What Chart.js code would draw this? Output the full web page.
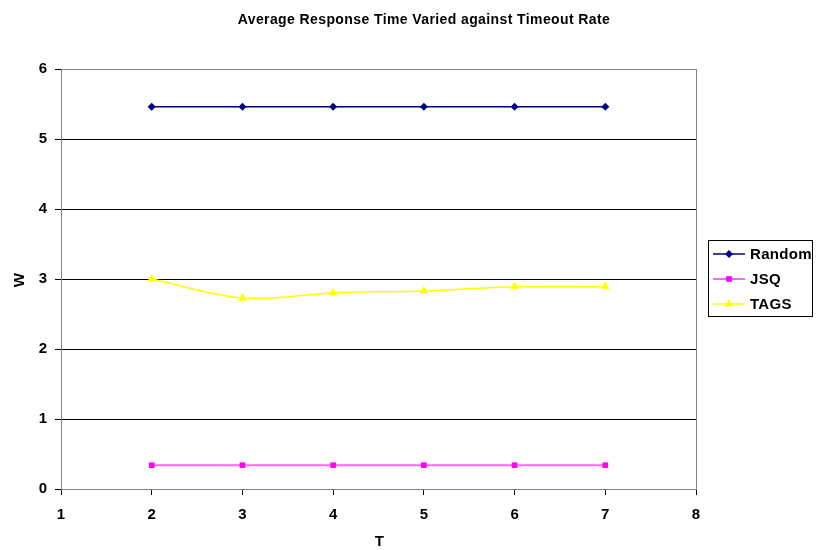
<!DOCTYPE html>
<html>
<head>
<meta charset="utf-8">
<script src="https://cdn.jsdelivr.net/npm/chart.js@4"></script>
<style>
  html, body { margin: 0; padding: 0; background: #fff; }
  #wrap { width: 816px; height: 550px; }
</style>
</head>
<body>
<div id="wrap"><canvas id="chart" width="816" height="550"></canvas></div>
<script>
// ── Data ─────────────────────────────────────────
const T_VALUES = [2, 3, 4, 5, 6, 7];
const RANDOM = [5.46, 5.46, 5.46, 5.46, 5.46, 5.46];
const JSQ = [0.34, 0.34, 0.34, 0.34, 0.34, 0.34];
const TAGS = [3.0, 2.73, 2.8, 2.83, 2.89, 2.89];
const X_TICKS = [1, 2, 3, 4, 5, 6, 7, 8];
const Y_TICKS = [0, 1, 2, 3, 4, 5, 6];

const TITLE = 'Average Response Time Varied against Timeout Rate';
const FONT = '"Liberation Sans", Arial, sans-serif';

const toPoints = (ys) => T_VALUES.map((x, i) => ({ x, y: ys[i] }));

// ── Title, axis titles, frame and legend ─────────
const decorPlugin = {
  id: 'decor',
  afterDraw(chart) {
    const { ctx, chartArea: a } = chart;
    ctx.save();
    ctx.strokeStyle = '#808080';
    ctx.lineWidth = 1;
    ctx.strokeRect(a.left + 0.5, a.top + 0.5, a.right - a.left, a.bottom - a.top);

    ctx.fillStyle = '#000';
    ctx.font = 'bold 14px ' + FONT;
    ctx.letterSpacing = '0.4px';
    ctx.textAlign = 'center';
    ctx.textBaseline = 'middle';
    ctx.fillText(TITLE, 424, 20);
    ctx.font = 'bold 15px ' + FONT;
    ctx.fillText('T', (a.left + a.right) / 2 + 1, 542);
    ctx.translate(20, 280);
    ctx.rotate(-Math.PI / 2);
    ctx.fillText('W', 0, 0);
    ctx.restore();

    // legend box
    ctx.save();
    const lx = 708, ly = 240, lw = 104, lh = 76;
    ctx.fillStyle = '#fff';
    ctx.fillRect(lx, ly, lw, lh);
    ctx.strokeStyle = '#000';
    ctx.lineWidth = 1;
    ctx.strokeRect(lx + 0.5, ly + 0.5, lw, lh);
    ctx.font = 'bold 15px ' + FONT;
    ctx.letterSpacing = '0.3px';
    ctx.textAlign = 'left';
    ctx.textBaseline = 'middle';
    chart.data.datasets.forEach((ds, i) => {
      const y = ly + 14 + i * 25;
      ctx.strokeStyle = ds.borderColor;
      ctx.lineWidth = ds.borderWidth;
      ctx.beginPath();
      ctx.moveTo(lx + 5, y);
      ctx.lineTo(lx + 37, y);
      ctx.stroke();
      ctx.fillStyle = ds.pointBackgroundColor;
      Chart.helpers.drawPoint(ctx, {
        pointStyle: ds.pointStyle, radius: ds.pointRadius, borderWidth: 0, rotation: 0,
      }, lx + 21, y);
      ctx.fillStyle = '#000';
      ctx.fillText(ds.label, lx + 42, y + 1);
    });
    ctx.restore();
  },
};

const ctx = document.getElementById('chart').getContext('2d');
new Chart(ctx, {
  type: 'line',
  data: {
    datasets: [
      {
        label: 'Random',
        data: toPoints(RANDOM),
        borderColor: '#000080',
        borderWidth: 1.5,
        pointStyle: 'rectRot',
        pointRadius: 4,
        pointBackgroundColor: '#000080',
        pointBorderWidth: 0,
        tension: 0,
      },
      {
        label: 'JSQ',
        data: toPoints(JSQ),
        borderColor: 'rgba(255,0,255,0.6)',
        borderWidth: 2,
        pointStyle: 'rect',
        pointRadius: 4,
        pointBackgroundColor: '#ff00ff',
        pointBorderWidth: 0,
        tension: 0,
      },
      {
        label: 'TAGS',
        data: toPoints(TAGS),
        borderColor: '#ffff00',
        borderWidth: 1.5,
        pointStyle: 'triangle',
        pointRadius: 5,
        pointBackgroundColor: '#ffff00',
        pointBorderColor: '#ffff00',
        pointBorderWidth: 0,
        tension: 0.35,
      },
    ],
  },
  options: {
    responsive: false,
    animation: false,
    layout: { padding: { left: 0, right: 120, top: 69, bottom: 0 } },
    plugins: {
      legend: { display: false },
      title: { display: false },
      tooltip: { enabled: false },
    },
    scales: {
      x: {
        type: 'linear',
        min: 1,
        max: 8,
        afterFit: (s) => { s.height = 61; },
        afterBuildTicks: (s) => { s.ticks = X_TICKS.map((v) => ({ value: v })); },
        grid: { drawOnChartArea: false, color: '#000', tickLength: 6 },
        border: { color: '#000', width: 1 },
        ticks: { color: '#000', padding: 11, font: { family: FONT, size: 15, weight: 'bold' } },
      },
      y: {
        min: 0,
        max: 6,
        afterFit: (s) => { s.width = 61; },
        afterBuildTicks: (s) => { s.ticks = Y_TICKS.map((v) => ({ value: v })); },
        grid: { color: '#000', tickLength: 6 },
        border: { color: '#000', width: 1 },
        ticks: { color: '#000', padding: 8, font: { family: FONT, size: 15, weight: 'bold' } },
      },
    },
  },
  plugins: [decorPlugin],
});
</script>
</body>
</html>
